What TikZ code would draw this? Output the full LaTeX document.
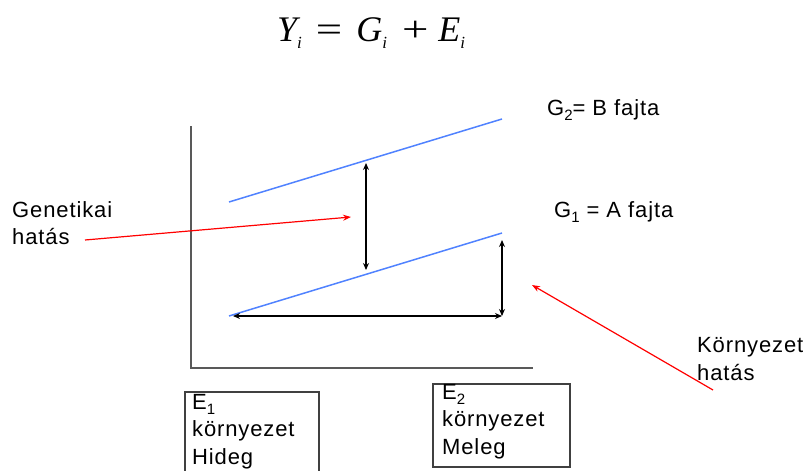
\documentclass[tikz,border=0pt]{standalone}
\usepackage{fontspec}
\setmainfont{Liberation Sans}[LetterSpace=4]
\newfontfamily\eqfont{Liberation Serif}
\usetikzlibrary{arrows.meta}
\newcommand{\lowsub}[1]{\raisebox{-0.45ex}{\fontsize{15}{15}\selectfont #1}}
\newcommand{\eqsub}[1]{\raisebox{-0.4ex}{\fontsize{17}{17}\selectfont\itshape #1}}
\begin{document}
\begin{tikzpicture}[x=1pt,y=-1pt,
  lbl/.style={anchor=west,inner sep=0pt,font=\fontsize{22}{27.5}\selectfont,align=left},
  axis/.style={draw=black!65,line width=2pt},
  gline/.style={draw={rgb,255:red,80;green,130;blue,255},line width=1.5pt},
  barrow/.style={draw=black,line width=1.2pt,{Stealth[length=7pt,width=6pt]}-{Stealth[length=7pt,width=6pt]}},
  rarrow/.style={draw=red,line width=1.2pt,-{Stealth[length=8pt,width=6pt]}},
  ebox/.style={draw=black!75,line width=1.5pt}]
\useasboundingbox (0,0) rectangle (807,471);
% equation
\node[inner sep=0pt,anchor=west] (eq) at (277,33) {\eqfont\fontsize{36}{38}\selectfont\itshape Y\eqsub{i}\hspace{14pt}\upshape\scalebox{1.3}[1]{=}\hspace{14pt}\itshape G\eqsub{i}\hspace{15pt}\upshape\scalebox{1.3}[1]{+}\hspace{10pt}\itshape E\eqsub{i}};
% axes
\coordinate (ytop) at (191,126);
\coordinate (origin) at (191,368);
\coordinate (xend) at (533,368);
\draw[axis] (ytop) -- (origin) -- (xend);
% genotype lines
\coordinate (g2a) at (229,202);
\coordinate (g2b) at (502,119);
\coordinate (g1a) at (229,316);
\coordinate (g1b) at (502,233);
\draw[gline] (g2a) -- (g2b);
\draw[gline] (g1a) -- (g1b);
% double arrows
\coordinate (va) at (366,163);
\coordinate (vb) at (366,270);
\draw[barrow] (va) -- (vb);
\coordinate (ra) at (502,240);
\coordinate (rb) at (502,316);
\draw[barrow] (ra) -- (rb);
\coordinate (ha) at (233,316);
\coordinate (hb) at (502,316);
\draw[barrow] (ha) -- (hb);
% labels
\node[lbl] (lg2) at (547,110) {G\lowsub{2}= B fajta};
\node[lbl] (lg1) at (554,212) {G\lowsub{1} = A fajta};
\node[lbl] (gen) at (12,223) {Genetikai\\hatás};
\node[lbl] (kor) at (697,359) {Környezet\\hatás};
% red arrows
\coordinate (gs) at (85,240);
\coordinate (ge) at (351,217);
\draw[rarrow] (gs) -- (ge);
\coordinate (ks) at (713,390);
\coordinate (ke) at (532,285);
\draw[rarrow] (ks) -- (ke);
% boxes
\draw[ebox] (185,475) -- (185,392) -- (319,392) -- (319,475);
\draw[ebox] (433,384) rectangle (570,467);
\node[lbl,anchor=north west] (e1) at (192,394) {E\lowsub{1}\\környezet\\Hideg};
\node[lbl,anchor=north west] (e2) at (442,384) {E\lowsub{2}\\környezet\\Meleg};
\end{tikzpicture}
\end{document}
